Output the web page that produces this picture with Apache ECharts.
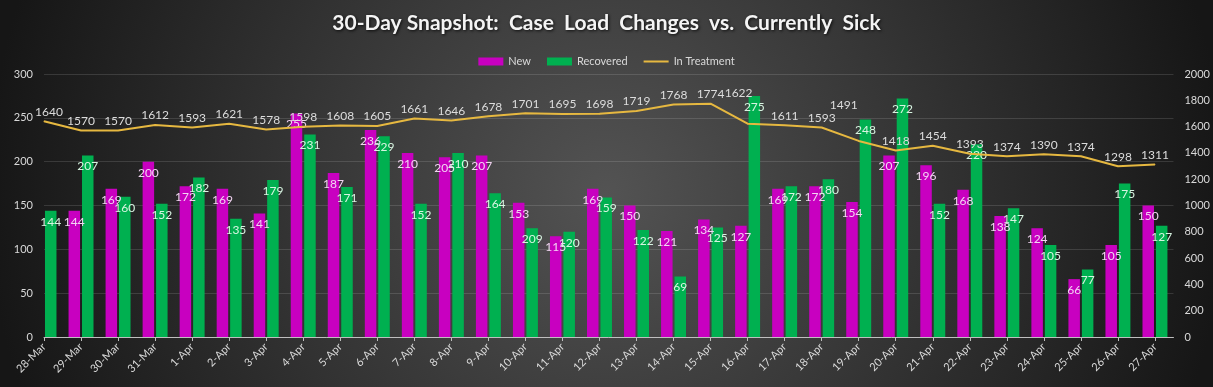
<!DOCTYPE html>
<html>
<head>
<meta charset="utf-8">
<script src="https://cdn.jsdelivr.net/npm/echarts@6/dist/echarts.min.js"></script>
<style>
html,body{margin:0;padding:0;background:#2a2a2a;}
#chart{width:1213px;height:387px;}
</style>
</head>
<body>
<div id="chart"></div>
<script>
var categories = ['28-Mar','29-Mar','30-Mar','31-Mar','1-Apr','2-Apr','3-Apr','4-Apr','5-Apr','6-Apr','7-Apr','8-Apr','9-Apr','10-Apr','11-Apr','12-Apr','13-Apr','14-Apr','15-Apr','16-Apr','17-Apr','18-Apr','19-Apr','20-Apr','21-Apr','22-Apr','23-Apr','24-Apr','25-Apr','26-Apr','27-Apr'];
var newCases = [null,144,169,200,172,169,141,255,187,236,210,205,207,153,115,169,150,121,134,127,169,172,154,207,196,168,138,124,66,105,150];
var recovered = [144,207,160,152,182,135,179,231,171,229,152,210,164,124,120,159,122,69,125,275,172,180,248,272,152,220,147,105,77,175,127];
// label text shown in the picture where it differs from the bar height
var recoveredLabelText = {13: '209'};
var inTreatment = [1640,1570,1570,1612,1593,1621,1578,1598,1608,1605,1661,1646,1678,1701,1695,1698,1719,1768,1774,1622,1611,1593,1491,1418,1454,1393,1374,1390,1374,1298,1311];
var leftTicks = {min:0, max:300, interval:50};
var rightTicks = {min:0, max:2000, interval:200};

var FONT = 'Lato, "Open Sans", sans-serif';
var idx = categories.map(function(c,i){return i;});

function pairs(arr){
  return arr.map(function(v,i){ return [i, v == null ? '-' : v]; });
}
// labels that were dragged away from their point in the original
var lineLabelOffsets = {0: [5, 0], 19: [-9, -21], 22: [-15, -26]};
var lineData = inTreatment.map(function(v,i){
  var item = {value:[i, v]};
  if (lineLabelOffsets[i]) item.label = {offset: lineLabelOffsets[i]};
  return item;
});

var chart = echarts.init(document.getElementById('chart'));
chart.setOption({
  backgroundColor: {
    type:'radial', x:0.5, y:0.5, r:1.6,
    colorStops:[{offset:0,color:'#535353'},{offset:1,color:'#161616'}]
  },
  animation:false,
  title:{
    text:'30-Day Snapshot:  Case  Load  Changes  vs.  Currently  Sick',
    left:'center', top:8,
    textStyle:{color:'#f4f4f4', fontSize:21, fontWeight:'bold', fontFamily:FONT,
      textShadowColor:'rgba(0,0,0,0.8)', textShadowBlur:3, textShadowOffsetX:1, textShadowOffsetY:1}
  },
  legend:{
    top:51, left:'center', itemWidth:25, itemHeight:8, itemGap:16,
    textStyle:{color:'#d9d9d9', fontSize:11, fontFamily:FONT},
    data:[{name:'New', icon:'rect'},{name:'Recovered', icon:'rect'},
          {name:'In Treatment', icon:'path://M0,0H25V2H0Z'}]
  },
  grid:{left:44, right:37, top:74, bottom:50},
  xAxis:{
    type:'value', min:0, max:categories.length - 0.5, interval:1,
    axisLine:{show:true, lineStyle:{color:'#bfbfbf', width:1}},
    axisTick:{show:true, length:4, lineStyle:{color:'#bfbfbf'}, customValues: idx},
    axisLabel:{color:'#d9d9d9', fontSize:11, fontFamily:FONT, rotate:45, margin:8,
      customValues: idx,
      formatter:function(v){ return categories[Math.round(v)] || ''; }},
    splitLine:{show:false}
  },
  yAxis:[{
    type:'value', min:leftTicks.min, max:leftTicks.max, interval:leftTicks.interval,
    axisLine:{show:false}, axisTick:{show:false},
    axisLabel:{color:'#d9d9d9', fontSize:11, fontFamily:FONT, margin:11},
    splitLine:{show:true, lineStyle:{color:'rgba(255,255,255,0.13)', width:1}}
  },{
    type:'value', min:rightTicks.min, max:rightTicks.max, interval:rightTicks.interval, position:'right',
    axisLine:{show:false}, axisTick:{show:false},
    axisLabel:{color:'#d9d9d9', fontSize:11, fontFamily:FONT, margin:11,
      formatter:function(v){ return String(v); }},
    splitLine:{show:false}
  }],
  series:[{
    name:'New', type:'bar', data:pairs(newCases), barWidth:11.5, barGap:'17%',
    itemStyle:{color:'#C800C0'},
    label:{show:true, position:'insideTop', distance:5, color:'#f3d4f3', fontSize:12, fontFamily:FONT}
  },{
    name:'Recovered', type:'bar', data:pairs(recovered), barWidth:11.5, barGap:'17%',
    itemStyle:{color:'#00B050'},
    label:{show:true, position:'insideTop', distance:5, color:'#d8f5e2', fontSize:12, fontFamily:FONT,
      formatter:function(p){ return recoveredLabelText[p.dataIndex] || p.value[1]; }}
  },{
    name:'In Treatment', type:'line', yAxisIndex:1, data:lineData,
    symbol:'circle', symbolSize:1, showSymbol:true, z:5,
    lineStyle:{color:'#E6B840', width:2},
    itemStyle:{color:'#E6B840'},
    label:{show:true, position:'top', distance:3, color:'#dcdcdc', fontSize:12, fontFamily:FONT,
      formatter:function(p){ return p.value[1]; }}
  }]
});
</script>
</body>
</html>
